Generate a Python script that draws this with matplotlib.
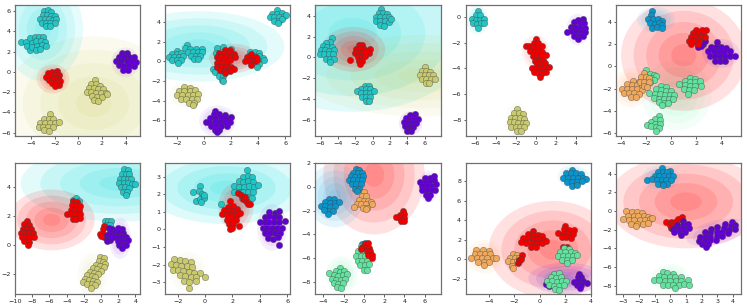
import matplotlib
matplotlib.use("Agg")
import matplotlib.pyplot as plt
from matplotlib.patches import Ellipse

PUR, TEAL, OLV, RED, AQ, ORG, BLU = '#6200d4', '#22c4c4', '#c9c96e', '#f20000', '#62e29e', '#f0a85c', '#0a94cc'
E = {PUR: '#8a2be8', TEAL: '#1fe0e0', OLV: '#c4c43c', RED: '#ff1a1a', AQ: '#50f09c', ORG: '#ffa040', BLU: '#1ea8e6'}

# ---------- panel 1 ----------
p1_xlim, p1_ylim = (-5.35, 5.24), (-6.35, 6.55)
p1_xt, p1_yt = [-4, -2, 0, 2, 4], [-6, -4, -2, 0, 2, 4, 6]
p1_ell = [(OLV, 1.3, -3.1, 1.5, 1.32, 0, .08), (TEAL, -3, 4.2, .68, 1.02, 0, .11), (RED, -2.14, -.7, .276, .285, 0, .11), (PUR, 4, .95, .24, .29, 0, .07)]
p1_a = [(-2.9,6.0),(-2.6,6.05),(-2.3,5.9),(-3.0,5.6),(-2.65,5.6),(-2.3,5.5),(-2.0,5.5),(-3.2,5.2),(-2.85,5.2),(-2.5,5.2),(-2.15,5.15),(-1.9,5.2),(-3.1,4.85),(-2.7,4.8),(-2.35,4.8),(-2.0,4.85),(-2.7,4.5),(-2.4,4.5)]
p1_b = [(-4.85,2.95),(-4.4,2.9),(-4.1,3.3),(-3.7,3.4),(-3.3,3.4),(-3.0,3.45),(-4.3,2.5),(-3.95,2.85),(-3.55,3.0),(-3.15,3.0),(-2.8,2.9),(-4.1,2.1),(-3.9,2.4),(-3.5,2.55),(-3.1,2.6),(-2.75,2.55),(-3.6,2.15),(-3.2,2.2)]
p1_c = [(-2.6,-.1),(-2.25,0.0),(-1.8,.1),(-2.75,-.5),(-2.4,-.4),(-2.0,-.3),(-1.65,-.3),(-2.5,-.8),(-2.15,-.75),(-1.75,-.7),(-1.55,-.95),(-2.2,-1.1),(-1.85,-1.1),(-1.65,-1.3),(-2.0,-1.35)]
p1_d = [(3.7,1.85),(4.15,1.9),(3.4,1.5),(3.85,1.5),(4.3,1.5),(4.7,1.5),(3.2,1.05),(3.65,1.05),(4.1,1.05),(4.55,1.05),(4.85,.95),(3.4,.65),(3.85,.6),(4.3,.6),(4.7,.55),(3.8,.2),(4.2,.2)]
p1_e = [(1.4,-.85),(1.1,-1.2),(1.5,-1.2),(1.85,-1.35),(.9,-1.6),(1.3,-1.6),(1.7,-1.65),(2.1,-1.7),(.7,-2.0),(1.1,-2.0),(1.5,-2.05),(1.9,-2.1),(2.3,-2.1),(1.2,-2.4),(1.6,-2.45),(2.0,-2.5),(2.4,-2.2),(1.3,-2.8),(1.65,-2.85)]
p1_f = [(-2.4,-4.2),(-2.9,-4.6),(-2.5,-4.6),(-2.1,-4.6),(-3.2,-5.0),(-2.8,-5.0),(-2.4,-5.0),(-2.0,-5.0),(-1.6,-4.95),(-3.35,-5.4),(-2.95,-5.4),(-2.55,-5.4),(-2.15,-5.4),(-2.9,-5.75),(-2.5,-5.8)]
p1_pts = [(TEAL, p1_a), (TEAL, p1_b), (OLV, p1_e), (OLV, p1_f), (PUR, p1_d), (RED, p1_c)]

# ---------- panel 2 ----------
p2_xlim, p2_ylim = (-2.86, 6.38), (-7.65, 5.73)
p2_xt, p2_yt = [-2, 0, 2, 4, 6], [-6, -4, -2, 0, 2, 4]
p2_ell = [(TEAL, -.4, 1.53, 1.27, .72, 0, .12), (RED, 2.2, .3, .36, .3, 0, .12), (OLV, -1.2, -3.4, .27, .26, 0, .04), (PUR, 1, -6.1, .27, .32, 0, .08)]
p2_a = [(5.4,5.2),(5.05,4.85),(5.4,4.85),(5.75,4.95),(4.85,4.55),(5.2,4.5),(5.55,4.55),(5.9,4.6),(6.05,4.75),(5.2,4.15),(5.55,4.15),(5.8,4.3),(5.45,3.95)]
p2_b = [(-2.0,1.1),(-2.35,.8),(-2.0,.8),(-1.65,.85),(-2.55,.5),(-2.2,.45),(-1.85,.45),(-1.5,.55),(-2.35,.1),(-2.0,.1),(-1.65,.15),(-1.9,-.2)]
p2_c = [(-1.25,1.7),(-1.4,1.35),(-1.05,1.3),(-.6,1.3),(-.1,1.3),(-1.15,.95),(-.8,.95),(-.45,.95),(-.1,1.0),(-.95,.55),(-.6,.55),(-.25,.6),(-.75,.25),(-.4,.2)]
p2_d = [(.65,-.8),(1.0,-.7),(.85,-1.1),(1.2,-1.15),(1.55,-1.1),(1.1,-1.5),(1.45,-1.5),(1.35,-1.85),(1.4,-2.05)]
p2_e = [(1.0,1.4),(1.45,1.45),(2.0,1.3),(.9,.9)]
p2_f = [(3.4,.95),(3.8,.95),(4.1,.85),(3.3,.6),(3.7,.6),(4.05,.55),(4.4,.3),(4.0,.1),(4.45,.1),(3.7,-.1),(4.1,-.3),(3.95,-.6)]
p2_g = [(1.6,1.2),(1.95,1.15),(1.15,.85),(1.5,.85),(1.85,.85),(2.2,.8),(.95,.5),(1.3,.45),(1.65,.45),(2.0,.5),(2.3,.45),(1.1,.15),(1.5,.1),(1.9,.1)]
p2_h = [(1.0,-.2),(1.35,-.2),(1.7,-.25),(.95,-.55),(1.3,-.55),(1.65,-.6),(2.0,-.55),(2.25,-.75),(1.2,-.9),(1.55,-.95),(1.9,-.95),(1.6,-1.2)]
p2_i = [(3.5,.75),(3.2,.4),(3.55,.35),(3.85,.4),(3.05,.05),(3.4,.0),(3.75,.0),(3.9,.1),(3.5,-.35)]
p2_j = [(-1.45,-2.65),(-1.0,-2.7),(-1.85,-3.0),(-1.45,-3.05),(-1.05,-3.05),(-.65,-2.95),(-2.0,-3.4),(-1.6,-3.4),(-1.2,-3.4),(-.8,-3.4),(-.4,-3.3),(-1.7,-3.8),(-1.3,-3.8),(-.9,-3.8),(-.5,-3.8),(-1.1,-4.2),(-.7,-4.2),(-.8,-4.45)]
p2_k = [(.2,-6.15),(.8,-5.1),(.75,-5.4),(1.15,-5.4),(1.55,-5.45),(.45,-5.8),(.85,-5.8),(1.25,-5.8),(1.65,-5.8),(2.0,-5.7),(.4,-6.2),(.8,-6.2),(1.2,-6.2),(1.6,-6.2),(1.95,-6.2),(.5,-6.6),(.9,-6.6),(1.3,-6.6),(1.7,-6.6),(.8,-7.0),(1.15,-7.0),(1.0,-7.25)]
p2_pts = [(TEAL, p2_a), (TEAL, p2_b), (TEAL, p2_c), (TEAL, p2_d), (TEAL, p2_e), (TEAL, p2_f), (OLV, p2_j), (PUR, p2_k), (RED, p2_g), (RED, p2_h), (RED, p2_i)]

# ---------- panel 3 ----------
p3_xlim, p3_ylim = (-6.6, 7.85), (-7.55, 5.0)
p3_xt, p3_yt = [-6, -4, -2, 0, 2, 4, 6], [-6, -4, -2, 0, 2, 4]
p3_ell = [(TEAL, -2.3, 2.3, 2.8, 1.5, 0, .13), (OLV, 5.85, -1.75, 2.8, .78, 0, .07), (RED, -2.2, .78, .73, .43, 0, .12), (PUR, 4.4, -6.3, .27, .23, 0, .1)]
p3_a = [(1.0,4.6),(.7,4.3),(1.2,4.25),(1.7,4.2),(.4,3.9),(.9,3.85),(1.4,3.85),(1.9,3.85),(.4,3.5),(.9,3.45),(1.4,3.45),(1.9,3.4),(2.15,3.7),(.9,3.1),(1.35,3.05)]
p3_b = [(-4.65,1.85),(-4.9,1.5),(-5.35,1.4),(-5.7,1.1),(-5.2,1.05),(-4.7,1.05),(-6.0,.7),(-5.5,.7),(-5.0,.65),(-4.5,.7),(-6.05,.3),(-5.55,.3),(-5.05,.3),(-4.55,.3),(-5.4,-.1),(-4.95,-.1),(-4.5,-.1),(-4.85,-.45)]
p3_c = [(-.9,-2.7),(-.4,-2.75),(-1.3,-3.0),(-.8,-3.05),(-.3,-3.05),(-1.8,-3.25),(-1.3,-3.4),(-.8,-3.4),(-.3,-3.4),(.2,-3.25),(-1.25,-3.8),(-.75,-3.8),(-.25,-3.75),(-.8,-4.15),(-.4,-4.2)]
p3_d = [(-2.6,-.2),(-.3,.85),(-.4,.4),(-1.6,1.15),(-1.2,1.2),(-1.9,.85),(-1.45,.8),(-1.0,.8),(-2.0,.45),(-1.55,.45),(-1.1,.4),(-.8,.6),(-1.7,.05),(-1.25,.05),(-.85,.1),(-1.6,-.3),(-1.2,-.3),(-1.5,-.6)]
p3_e = [(6.0,-.95),(5.7,-1.25),(6.2,-1.3),(6.65,-1.35),(5.5,-1.65),(6.0,-1.65),(6.5,-1.7),(7.0,-1.7),(5.7,-2.05),(6.2,-2.05),(6.7,-2.05),(7.2,-2.05),(6.15,-2.4),(6.55,-2.4)]
p3_f = [(4.9,-5.4),(4.35,-5.55),(4.8,-5.7),(3.85,-5.8),(4.3,-5.95),(4.75,-6.0),(5.3,-5.9),(3.65,-6.2),(4.15,-6.3),(4.6,-6.35),(5.0,-6.3),(3.75,-6.6),(4.2,-6.7),(4.65,-6.7),(4.0,-7.0),(4.45,-7.05)]
p3_pts = [(TEAL, p3_a), (TEAL, p3_b), (TEAL, p3_c), (OLV, p3_e), (PUR, p3_f), (RED, p3_d)]

# ---------- panel 4 ----------
p4_xlim, p4_ylim = (-6.98, 5.5), (-9.3, .91)
p4_xt, p4_yt = [-6, -4, -2, 0, 2, 4], [-8, -6, -4, -2, 0]
p4_ell = [(TEAL, -5.8, -.23, .215, .23, 0, .08), (RED, 0, -2.7, .28, .26, 0, .06), (PUR, 4.15, -.97, .22, .245, 0, .08), (OLV, -1.85, -8.05, .25, .27, 0, .035)]
p4_a = [(-5.75,.5),(-6.0,.15),(-5.6,.15),(-6.35,-.15),(-5.95,-.2),(-5.55,-.2),(-5.2,-.15),(-6.3,-.5),(-5.9,-.55),(-5.5,-.5),(-5.2,-.45),(-5.75,-.85)]
p4_b = [(0,-1.7),(-.2,-2.0),(.2,-2.05),(-1.0,-2.25),(-.65,-2.3),(-.25,-2.35),(.2,-2.4),(.6,-2.3),(-.6,-2.65),(-.2,-2.7),(.2,-2.75),(.6,-2.7),(-.3,-3.05),(.1,-3.05),(.5,-3.05),(1.0,-2.95),(-.1,-3.4),(.3,-3.4),(.7,-3.35)]
p4_c = [(.1,-3.7),(.5,-3.7),(.9,-3.55),(-.35,-4.0),(.05,-4.0),(.45,-4.05),(.85,-4.0),(1.3,-3.9),(-.2,-4.3),(.2,-4.35),(.6,-4.35),(1.0,-4.3),(.4,-4.65)]
p4_d = [(4.7,-.15),(4.2,-.25),(3.8,-.4),(4.4,-.5),(4.85,-.5),(3.5,-.75),(3.95,-.8),(4.4,-.85),(4.9,-.85),(3.15,-1.2),(3.6,-1.1),(4.05,-1.15),(4.5,-1.2),(4.95,-1.2),(3.85,-1.5),(4.3,-1.5),(4.7,-1.5),(4.2,-1.75)]
p4_e = [(-1.9,-7.15),(-2.15,-7.5),(-1.7,-7.5),(-1.3,-7.6),(-2.45,-7.85),(-2.05,-7.85),(-1.6,-7.85),(-1.15,-7.95),(-2.6,-8.2),(-2.2,-8.2),(-1.75,-8.25),(-1.3,-8.25),(-.95,-8.3),(-2.45,-8.55),(-2.0,-8.55),(-1.55,-8.6),(-1.15,-8.6),(-1.9,-8.9),(-1.5,-8.9)]
p4_pts = [(TEAL, p4_a), (OLV, p4_e), (PUR, p4_d), (RED, p4_b), (RED, p4_c)]

# ---------- panel 5 ----------
p5_xlim, p5_ylim = (-4.4, 5.58), (-6.3, 5.5)
p5_xt, p5_yt = [-4, -2, 0, 2, 4], [-6, -4, -2, 0, 2, 4]
p5_ell = [(AQ, .43, -2.6, .56, .63, 0, .06), (ORG, -3.16, -1.93, .3, .35, 0, .07), (RED, 1, 1, 1, 1, 0, .13), (BLU, -1.22, 4.2, .3, .23, 0, .09), (PUR, 3.95, 1.17, .3, .26, 0, .09)]
p5_a = [(-1.55,5.0),(-1.6,4.6),(-1.85,4.25),(-1.45,4.25),(-1.05,4.3),(-.7,4.1),(-1.7,3.9),(-1.3,3.85),(-.95,3.9),(-.7,3.75),(-1.5,3.45),(-1.1,3.55),(-.75,3.45)]
p5_b = [(2.0,3.3),(2.45,3.3),(2.75,3.3),(1.75,3.0),(2.15,2.95),(2.55,2.95),(1.55,2.65),(1.95,2.6),(2.35,2.6),(2.7,2.65),(1.45,2.3),(1.85,2.25),(2.25,2.3),(1.6,2.0),(2.1,2.0)]
p5_c = [(2.15,1.95),(2.5,2.0),(2.65,2.3),(2.1,1.7),(2.4,1.85)]
p5_d = [(3.65,2.15),(3.2,1.75),(3.6,1.75),(4.0,1.7),(4.4,1.65),(2.95,1.35),(3.4,1.35),(3.8,1.3),(4.2,1.3),(4.65,1.4),(3.05,.95),(3.45,.9),(3.85,.9),(4.25,.9),(4.65,.9),(3.5,.5),(3.9,.45),(4.3,.5),(5.1,.95)]
p5_e = [(-3.05,-1.35),(-2.6,-1.4),(-3.5,-1.6),(-3.1,-1.7),(-2.7,-1.7),(-2.35,-1.75),(-3.9,-2.0),(-3.5,-2.0),(-3.1,-2.05),(-2.7,-2.05),(-2.35,-2.15),(-3.8,-2.4),(-3.4,-2.4),(-3.0,-2.4),(-2.6,-2.45),(-3.2,-2.8),(-2.8,-2.8)]
p5_f = [(-2.2,-.6),(-2.4,-1.0),(-2.05,-1.0),(-1.75,-1.05),(-2.5,-1.4),(-2.15,-1.4),(-1.8,-1.4),(-2.2,-1.8),(-1.95,-1.85)]
p5_g = [(-2.05,-.35),(-1.7,-.7),(-1.4,-.75),(-1.2,-.9),(-1.6,-1.05),(-1.35,-1.2),(-1.7,-1.4)]
p5_h = [(-.85,-1.75),(-.45,-1.85),(-1.25,-2.0),(-.85,-2.1),(-.45,-2.2),(-.05,-2.2),(-1.75,-2.4),(-1.3,-2.45),(-.9,-2.5),(-.5,-2.55),(-.1,-2.55),(.2,-2.6),(-1.4,-2.85),(-1.0,-2.9),(-.6,-2.9),(-.2,-2.95),(.15,-2.95),(-1.0,-3.25),(-.6,-3.3),(-.25,-3.3),(-.7,-3.5)]
p5_i = [(1.5,-1.05),(1.9,-1.1),(1.1,-1.3),(1.5,-1.4),(1.9,-1.45),(2.3,-1.35),(.65,-1.6),(1.1,-1.7),(1.5,-1.75),(1.9,-1.8),(2.35,-1.75),(1.0,-2.05),(1.4,-2.1),(1.85,-2.15),(1.35,-2.45)]
p5_j = [(-.95,-4.5),(-1.3,-4.75),(-.9,-4.85),(-1.65,-5.0),(-1.3,-5.15),(-.9,-5.2),(-1.95,-5.25),(-1.6,-5.35),(-1.25,-5.5),(-.95,-5.55),(-1.25,-5.85)]
p5_pts = [(BLU, p5_a), (AQ, p5_g), (ORG, p5_e), (ORG, p5_f), (AQ, p5_h), (AQ, p5_i), (AQ, p5_j), (PUR, p5_c), (PUR, p5_d), (RED, p5_b)]

# ---------- panel 6 ----------
p6_xlim, p6_ylim = (-10.0, 4.57), (-3.36, 5.68)
p6_xt, p6_yt = [-10, -8, -6, -4, -2, 0, 2, 4], [-2, 0, 2, 4]
p6_ell = [(TEAL, 2.1, 4.28, 2.29, .53, 0, .13), (RED, -5.74, 1.75, 1.0, .42, 0, .13), (PUR, 2.2, .48, .26, .285, 0, .08), (OLV, -1, -2.05, .35, .31, 0, .04)]
p6_a = [(2.7,5.25),(3.15,5.2),(2.4,4.95),(2.85,4.9),(3.3,4.9),(2.2,4.6),(2.7,4.6),(3.15,4.6),(3.5,4.6),(2.15,4.3),(2.65,4.3),(3.1,4.3),(3.55,4.25),(3.95,4.25),(2.3,4.0),(2.8,4.0),(3.25,3.95),(2.6,3.7),(3.05,3.65),(2.85,3.45)]
p6_b = [(-8.6,1.7),(-8.9,1.45),(-8.4,1.4),(-9.1,1.15),(-8.6,1.15),(-8.1,1.15),(-9.35,.85),(-8.85,.85),(-8.35,.85),(-7.85,.85),(-9.2,.55),(-8.7,.55),(-8.2,.55),(-7.8,.6),(-8.9,.3),(-8.4,.25),(-8.5,.05)]
p6_c = [(-3.3,3.15),(-2.9,3.25),(-2.6,3.05)]
p6_d = [(-3.2,3.05),(-2.8,3.0),(-3.4,2.75),(-2.9,2.75),(-2.4,2.7),(-3.5,2.45),(-3.0,2.45),(-2.5,2.45),(-3.95,2.15),(-3.45,2.15),(-2.95,2.15),(-2.45,2.15),(-3.3,1.85),(-2.85,1.85),(-2.45,1.9)]
p6_e = [(.45,1.65),(.85,1.7),(1.2,1.65),(.6,1.4),(1.1,1.4)]
p6_f = [(0.3,1.35),(.25,1.1),(.2,.8),(-.1,.8),(.3,.55),(-.05,.65)]
p6_g = [(.9,1.2),(1.3,1.1),(1.0,.9),(.7,.7),(1.3,.7),(.75,.45),(1.1,.4),(.75,.3)]
p6_h = [(2.0,1.2),(2.4,1.15),(1.7,.9),(2.15,.9),(2.6,.85),(1.55,.6),(2.0,.6),(2.45,.6),(2.9,.6),(2.0,.3),(2.45,.3),(2.9,.3),(3.15,.4),(2.15,.0),(2.6,.0),(2.95,.05),(2.4,-.2)]
p6_i = [(-.1,-.8),(.3,-.85),(-.2,-1.1),(.25,-1.15),(.5,-1.3),(-.55,-1.35),(-.1,-1.4),(.3,-1.5),(-.9,-1.6),(-.45,-1.65),(0,-1.75),(-1.3,-1.85),(-.85,-1.9),(-.4,-1.95),(-1.6,-2.05),(-1.1,-2.15),(-.65,-2.2),(-1.85,-2.35),(-1.4,-2.4),(-.9,-2.45),(-.5,-2.5),(-2.05,-2.55),(-1.6,-2.65),(-1.1,-2.7),(-.7,-2.75),(-1.2,-2.95)]
p6_pts = [(TEAL, p6_a), (TEAL, p6_c), (TEAL, p6_e), (OLV, p6_i), (RED, p6_b), (RED, p6_d), (RED, p6_f), (PUR, p6_g), (PUR, p6_h)]

# ---------- panel 7 ----------
p7_xlim, p7_ylim = (-2.93, 6.23), (-3.66, 3.77)
p7_xt, p7_yt = [-2, 0, 2, 4, 6], [-3, -2, -1, 0, 1, 2, 3]
p7_ell = [(TEAL, 1.57, 2.36, 1.2, .41, 0, .14), (RED, 2.25, 1.28, .255, .27, 0, .11), (PUR, 4.9, .11, .22, .265, 0, .08), (OLV, -1.25, -2.4, .256, .226, 0, .04)]
p7_a = [(-.85,2.15),(-.4,2.45),(-.45,2.2),(-.25,2.0),(-.15,1.9),(-.7,1.6),(-.4,1.75),(-.1,1.8),(-.3,1.55),(-.05,1.95),(1.2,1.45)]
p7_b = [(3.05,3.4),(2.8,3.0),(3.15,3.05),(3.4,2.95),(2.45,2.75),(2.8,2.7),(3.15,2.75),(3.5,2.7),(2.15,2.45),(2.5,2.4),(2.85,2.4),(3.2,2.45),(3.55,2.4),(3.9,2.55),(2.1,2.1),(2.45,2.1),(2.8,2.1),(3.15,2.15),(3.5,2.15),(2.7,1.8),(3.05,1.85),(3.4,1.8),(3.1,1.55)]
p7_c = [(2.4,2.05),(2.65,1.95),(2.75,1.7),(3.0,1.6),(2.9,1.85),(3.15,1.45),(3.3,1.45)]
p7_d = [(1.8,1.6),(2.05,1.35),(1.65,1.3),(1.35,1.1),(1.7,1.05),(2.05,1.05),(2.35,1.15),(1.25,.85),(1.6,.8),(1.95,.8),(2.3,.8),(2.55,.95),(1.6,.55),(1.95,.55),(2.25,.55),(1.75,.3),(2.05,.3),(2.5,.2),(1.85,.05),(1.95,.1)]
p7_e = [(4.7,1.0),(5.1,.95),(5.4,1.05),(4.35,.7),(4.7,.75),(5.05,.7),(5.4,.7),(4.0,.4),(4.35,.4),(4.7,.4),(5.05,.4),(5.4,.4),(5.85,.5),(4.2,.1),(4.55,.1),(4.9,.1),(5.25,.1),(5.6,.1),(4.4,-.2),(4.75,-.2),(5.1,-.2),(5.45,-.2),(4.6,-.5),(4.95,-.55),(5.3,-.45),(5.4,-.9)]
p7_f = [(-2.25,-1.65),(-1.85,-1.75),(-1.45,-1.8),(-1.0,-1.85),(-2.5,-1.95),(-2.15,-2.0),(-1.75,-2.05),(-1.35,-2.1),(-.95,-2.15),(-2.35,-2.3),(-2.0,-2.3),(-1.6,-2.35),(-1.2,-2.4),(-.8,-2.45),(-.4,-2.45),(-1.85,-2.6),(-1.45,-2.65),(-1.05,-2.7),(-.65,-2.7),(-1.55,-2.95),(-1.15,-3.0),(-.7,-2.95),(.0,-2.7),(-1.2,-3.3)]
p7_pts = [(TEAL, p7_a), (TEAL, p7_b), (OLV, p7_f), (PUR, p7_e), (RED, p7_c), (RED, p7_d)]

# ---------- panel 8 ----------
p8_xlim, p8_ylim = (-4.8, 7.57), (-9.0, 2.0)
p8_xt, p8_yt = [-4, -2, 0, 2, 4, 6], [-8, -6, -4, -2, 0, 2]
p8_ell = [(RED, 1, 1, 1, 1, 0, .13), (BLU, -2.85, -.75, .57, .53, 0, .11), (PUR, 6.35, .03, .2, .27, 0, .08), (AQ, -2.2, -7.4, .31, .31, 0, .07)]
p8_a = [(-.8,1.5),(-.45,1.45),(-1.05,1.2),(-.6,1.15),(-.15,1.15),(-1.3,.9),(-.85,.85),(-.4,.85),(-.05,.9),(-1.5,.55),(-1.05,.55),(-.6,.55),(-.15,.55),(-1.2,.2),(-.75,.2),(-.3,.2),(-.85,-.15),(-.5,-.15),(-.7,-.35)]
p8_b = [(-3.4,-1.05),(-2.95,-1.05),(-3.8,-1.3),(-3.35,-1.35),(-2.9,-1.35),(-2.5,-1.3),(-4.25,-1.65),(-3.8,-1.65),(-3.35,-1.7),(-2.9,-1.65),(-3.5,-2.0),(-3.05,-2.0),(-3.55,-2.3),(-3.9,-1.95)]
p8_c = [(0,-.45),(-.2,-.8),(.2,-.8),(-.45,-1.1),(0,-1.15),(.45,-1.15),(-.7,-1.45),(-.25,-1.45),(.2,-1.45),(.7,-1.25),(.8,-1.45),(-.95,-1.7),(-.1,-1.75),(.35,-1.75),(.25,-1.9)]
p8_d = [(3.9,-2.05),(4.0,-2.3),(3.6,-2.4),(3.2,-2.55),(3.55,-2.6),(3.95,-2.6),(3.7,-2.85),(4.0,-2.9)]
p8_e = [(6.9,.95),(6.5,.75),(6.0,.7),(6.9,.55),(6.45,.4),(5.95,.35),(5.55,.4),(7.1,.2),(6.65,.1),(6.2,.05),(5.75,.05),(7.05,-.25),(6.6,-.3),(6.15,-.3),(5.7,-.3),(6.55,-.65),(6.15,-.7),(6.35,-.9)]
p8_f = [(-.3,-5.0),(-.55,-5.4),(-.1,-5.4),(-.75,-5.8),(-.3,-5.8),(.15,-5.8),(-.6,-6.2),(-.15,-6.2),(.3,-6.2),(-.35,-6.6),(.1,-6.6),(.55,-6.5),(.0,-7.0),(.35,-6.95)]
p8_g = [(-.2,-4.8),(.1,-4.75)]
p8_h = [(.15,-4.8),(.45,-4.75),(-.15,-5.05),(.25,-5.1),(.5,-5.1),(-.25,-5.2),(.3,-5.4),(.6,-5.4),(.45,-5.7),(.75,-5.7),(.8,-5.95)]
p8_i = [(-2.4,-6.85),(-2.8,-7.05),(-2.35,-7.15),(-1.95,-7.05),(-3.4,-7.2),(-3.0,-7.4),(-2.55,-7.45),(-2.1,-7.4),(-1.7,-7.3),(-3.2,-7.75),(-2.75,-7.8),(-2.3,-7.8),(-1.85,-7.7),(-3.0,-8.1),(-2.55,-8.15),(-2.1,-8.1),(-2.7,-8.45),(-2.3,-8.5)]
p8_pts = [(BLU, p8_a), (BLU, p8_b), (BLU, p8_g), (ORG, p8_c), (AQ, p8_f), (AQ, p8_i), (PUR, p8_e), (RED, p8_d), (RED, p8_h)]

# ---------- panel 9 ----------
p9_xlim, p9_ylim = (-5.8, 4.0), (-3.56, 9.9)
p9_xt, p9_yt = [-4, -2, 0, 2, 4], [-2, 0, 2, 4, 6, 8]
p9_ell = [(RED, 1, 1, 1, 1, 0, .13), (BLU, 2.6, 8.5, .24, .24, 0, .08), (ORG, -4.3, .27, .3, .34, 0, .07), (PUR, 2.1, -1.95, .6, .32, 0, .12), (AQ, 1.3, -2.2, .3, .3, 0, .04)]
p9_a = [(2.5,9.2),(2.05,8.85),(2.45,8.85),(2.85,8.85),(3.2,8.8),(1.8,8.4),(2.2,8.4),(2.6,8.4),(3.0,8.4),(3.4,8.4),(3.6,8.3),(2.1,7.95),(2.5,7.95),(2.9,7.95),(3.3,8.0),(2.55,7.5),(2.9,7.6)]
p9_b = [(-.55,2.95),(-.95,2.6),(-.55,2.55),(-.15,2.55),(.2,2.35),(-1.35,2.15),(-.95,2.15),(-.55,2.1),(-.15,2.1),(.3,2.0),(-1.45,1.75),(-1.05,1.7),(-.65,1.7),(-.25,1.65),(.15,1.65),(.5,1.9),(-.7,1.3),(-.3,1.25)]
p9_c = [(2.0,3.45),(1.85,3.1),(2.25,3.05),(2.7,3.0),(1.4,2.7),(1.8,2.65),(2.2,2.65),(2.6,2.6),(1.7,2.25),(2.05,2.25),(2.4,2.2)]
p9_d = [(-5.0,.95),(-4.45,.95),(-3.95,.9),(-5.1,.55),(-4.7,.55),(-4.3,.5),(-3.9,.5),(-5.35,.15),(-4.9,.1),(-4.5,.1),(-4.1,.1),(-3.7,.15),(-3.4,.15),(-4.8,-.25),(-4.4,-.3),(-4.0,-.25),(-4.4,-.6)]
p9_e = [(-2.1,.5),(-1.8,.4),(-2.35,.15),(-1.95,.1),(-1.6,.1),(-2.5,-.2),(-2.1,-.3),(-1.75,-.2),(-2.15,-.65),(-2.1,-.85)]
p9_f = [(-1.4,.45),(-1.6,-.05),(-1.7,-.4),(-1.65,-.2),(-1.5,.0)]
p9_g = [(1.8,1.3),(2.15,1.25)]
p9_h = [(1.9,1.15),(2.3,1.05),(1.6,.8),(2,.75),(2.4,.75),(2.75,.7),(1.4,.35),(1.8,.35),(2.2,.35),(2.6,.35),(2.9,.4),(1.75,-.05),(2.15,-.1),(2.5,-.05),(2.15,-.35)]
p9_i = [(1.1,-1.5),(1.5,-1.45),(.85,-1.85),(1.25,-1.9),(1.65,-1.85),(.55,-2.25),(.95,-2.25),(1.35,-2.3),(1.75,-2.25),(2.05,-2.2),(.7,-2.65),(1.1,-2.7),(1.5,-2.7),(1.85,-2.65),(1.2,-3.05),(1.5,-3.1)]
p9_j = [(3.05,-1.5),(2.95,-1.85),(3.25,-1.85),(2.65,-2.3),(3.0,-2.25),(3.35,-2.2),(3.65,-2.45),(2.9,-2.6),(3.25,-2.6),(3.15,-2.95),(.45,-2.55),(.7,-2.7)]
p9_pts = [(BLU, p9_a), (ORG, p9_d), (ORG, p9_e), (PUR, p9_j), (AQ, p9_i), (RED, p9_g), (AQ, p9_h), (RED, p9_b), (RED, p9_c), (RED, p9_f)]

# ---------- panel 10 ----------
p10_xlim, p10_ylim = (-3.47, 4.53), (-8.9, 5.15)
p10_xt, p10_yt = [-3, -2, -1, 0, 1, 2, 3, 4], [-8, -6, -4, -2, 0, 2, 4]
p10_ell = [(RED, 1, 1, 1, 1, 0, .13), (BLU, -.6, 3.6, .24, .27, 0, .08), (ORG, -2.1, -.8, .28, .23, 0, .04), (PUR, 2.95, -2.3, .42, .24, 30, .09), (AQ, 0, -7.2, .24, .3, 0, .06)]
p10_a = [(-.55,4.65),(-.05,4.3),(-.8,4.2),(-.5,4.2),(-.2,4.15),(-1.0,3.8),(-.7,3.75),(-.4,3.75),(-.1,3.75),(.15,3.8),(-1.5,3.35),(-1.15,3.4),(-.85,3.3),(-.55,3.3),(-.25,3.3),(.05,3.35),(-.8,2.9),(-.5,2.85),(-.2,2.9),(-.5,2.75)]
p10_b = [(-2.85,.0),(-2.45,-.1),(-2.1,-.1),(-1.8,-.2),(-2.7,-.5),(-2.35,-.5),(-2.05,-.5),(-1.7,-.5),(-1.4,-.6),(-3.0,-.9),(-2.65,-.95),(-2.3,-.95),(-1.95,-.95),(-1.6,-1.0),(-1.3,-.85),(-1.15,-.75),(-2.5,-1.35),(-2.1,-1.35),(-1.75,-1.35),(-1.4,-1.25),(-2.2,-1.65)]
p10_c = [(-.25,-1.15),(.05,-1.2),(-.05,-1.45),(.2,-1.25),(.4,-1.05),(.5,-.85),(.75,-.6),(.25,-1.55),(.05,-1.8),(.3,-1.2),(.15,-1.95)]
p10_d = [(.8,-1.1),(.45,-1.45),(.8,-1.5),(1.1,-1.4),(.2,-1.9),(.55,-1.9),(.9,-1.9),(1.2,-1.85),(.25,-2.3),(.6,-2.25),(.95,-2.25),(.7,-2.6)]
p10_e = [(3.95,-1.15),(3.5,-1.4),(3.85,-1.6),(4.15,-1.55),(3.0,-1.75),(3.4,-1.8),(3.75,-2.0),(4.1,-1.95),(2.6,-1.9),(2.55,-2.35),(2.95,-2.25),(3.3,-2.25),(3.65,-2.35),(2.2,-2.3),(2.2,-2.75),(2.55,-2.75),(2.95,-2.7),(3.3,-2.65),(1.9,-2.8),(1.85,-3.2),(2.2,-3.2),(2.55,-3.15),(2.9,-3.1),(2.05,-3.55),(2.4,-3.55),(2.3,-3.85)]
p10_f = [(-.5,-6.55),(-.2,-6.7),(.15,-6.75),(-.75,-7.0),(-.4,-7.1),(-.05,-7.1),(.3,-7.1),(.65,-7.05),(-1.05,-7.35),(-.7,-7.45),(-.35,-7.5),(0,-7.5),(.35,-7.5),(.7,-7.5),(1.15,-7.4),(-.5,-7.9),(-.15,-7.9),(.2,-7.9),(.55,-7.9),(.9,-7.85),(1.2,-7.9),(.3,-8.3)]
p10_pts = [(BLU, p10_a), (ORG, p10_b), (AQ, p10_f), (RED, p10_c), (PUR, p10_d), (PUR, p10_e)]

panels = [
    (p1_xlim, p1_ylim, p1_xt, p1_yt, p1_ell, p1_pts),
    (p2_xlim, p2_ylim, p2_xt, p2_yt, p2_ell, p2_pts),
    (p3_xlim, p3_ylim, p3_xt, p3_yt, p3_ell, p3_pts),
    (p4_xlim, p4_ylim, p4_xt, p4_yt, p4_ell, p4_pts),
    (p5_xlim, p5_ylim, p5_xt, p5_yt, p5_ell, p5_pts),
    (p6_xlim, p6_ylim, p6_xt, p6_yt, p6_ell, p6_pts),
    (p7_xlim, p7_ylim, p7_xt, p7_yt, p7_ell, p7_pts),
    (p8_xlim, p8_ylim, p8_xt, p8_yt, p8_ell, p8_pts),
    (p9_xlim, p9_ylim, p9_xt, p9_yt, p9_ell, p9_pts),
    (p10_xlim, p10_ylim, p10_xt, p10_yt, p10_ell, p10_pts),
]

W, H = 747, 307
fig = plt.figure(figsize=(W / 100, H / 100), dpi=100)
lefts = [15, 165, 315.3, 465.7, 616]
tops = [5.3, 163]
aw, ah = 125.3, 131

for i, (xl, yl, xt, yt, ells, pts) in enumerate(panels):
    L, T = lefts[i % 5], tops[i // 5]
    ax = fig.add_axes([L / W, 1 - (T + ah) / H, aw / W, ah / H])
    for col, cx, cy, sx, sy, ang, alpha in ells:
        for n in range(1, 6):
            ax.add_patch(Ellipse((cx, cy), 2 * n * sx, 2 * n * sy, angle=ang,
                                 facecolor=E[col], edgecolor='none', alpha=alpha, zorder=1))
    for z, (col, blob) in enumerate(pts):
        ax.scatter([p[0] for p in blob], [p[1] for p in blob], s=21, c=col,
                   edgecolors='#404040', linewidths=.25, zorder=2 + z * .01)
    ax.set_xlim(xl)
    ax.set_ylim(yl)
    ax.set_xticks(xt)
    ax.set_yticks(yt)
    ax.tick_params(labelsize=4.6, length=1.8, width=.5, pad=1.5, color='#222222', labelcolor='#222222')
    for s in ax.spines.values():
        s.set_linewidth(.9)
        s.set_color('#707070')

fig.savefig('out.png', dpi=100)
